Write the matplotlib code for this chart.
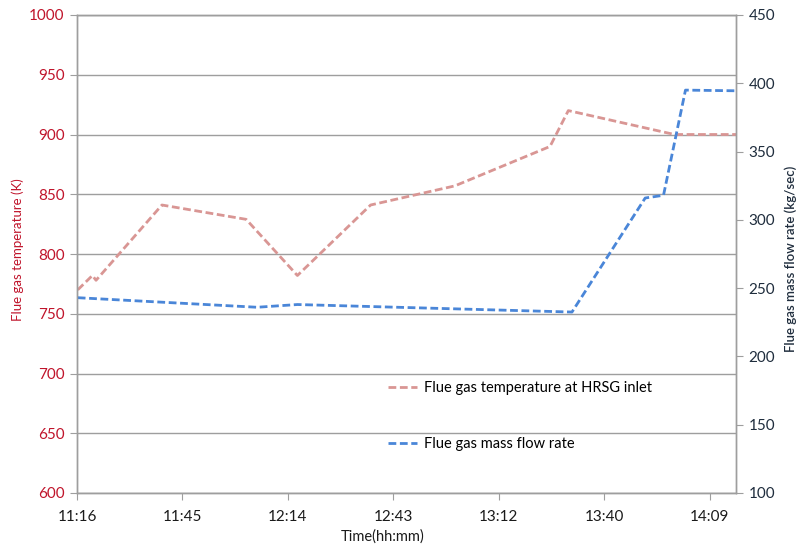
import matplotlib
matplotlib.use("Agg")
import matplotlib.pyplot as plt
from matplotlib.ticker import FixedLocator, FuncFormatter

plt.rcParams['font.family'] = ['Lato', 'DejaVu Sans']

# flue gas temperature at HRSG inlet (K)
temp_time = ["11:17", "11:21", "11:22", "11:40", "12:03", "12:17",
             "12:37", "13:00", "13:26", "13:31", "14:00", "14:17"]
temp_vals = [770, 782, 778, 841, 829, 782, 841, 857, 890, 920, 900, 900]

# flue gas mass flow rate (kg/sec)
flow_time = ["11:17", "12:06", "12:17", "13:32", "13:52", "13:57", "14:03", "14:17"]
flow_vals = [243, 236, 238, 232.5, 316, 318, 395, 394.5]

left_ticks = [600, 650, 700, 750, 800, 850, 900, 950, 1000]
right_ticks = [100, 150, 200, 250, 300, 350, 400, 450]


def to_min(s):
    h, m = s.split(":")
    return int(h) * 60 + int(m)


# excel date axis: starts at 0.47 day, major unit 0.02 day
x0 = 0.47 * 1440
x_ticks = [x0 + 0.02 * 1440 * k for k in range(7)]
x_end = x0 + 0.125 * 1440

RED = "#C0142B"
NAVY = "#1F2D3D"
GRID = "#9E9E9E"

fig = plt.figure(figsize=(7.96, 5.52), dpi=100)
ax = fig.add_axes([77 / 796, 1 - 493 / 552, 659 / 796, 478 / 552])
ax2 = ax.twinx()

tx = [to_min(t) for t in temp_time]
fx = [to_min(t) for t in flow_time]
l1, = ax.plot(tx, temp_vals, color="#D99694", lw=2.0, dashes=(2.8, 1.3),
              label="Flue gas temperature at HRSG inlet")
l2, = ax2.plot(fx, flow_vals, color="#4A86D8", lw=2.0, dashes=(2.8, 1.3),
               label="Flue gas mass flow rate")

ax.set_xlim(x0, x_end)
ax.set_ylim(600, 1000)
ax2.set_ylim(100, 450)
ax.yaxis.set_major_locator(FixedLocator(left_ticks))
ax2.yaxis.set_major_locator(FixedLocator(right_ticks))
ax.xaxis.set_major_locator(FixedLocator(x_ticks))
ax.xaxis.set_major_formatter(FuncFormatter(
    lambda v, p: "%d:%02d" % (int(v) // 60, int(v) % 60)))

ax.grid(axis="y", color=GRID, lw=1.0)
ax.set_axisbelow(True)
for a in (ax, ax2):
    for s in a.spines.values():
        s.set_color(GRID)
        s.set_linewidth(1.0)

ax.tick_params(axis="y", colors=GRID, labelcolor=RED, labelsize=11,
               length=5, direction="out", pad=4)
ax2.tick_params(axis="y", colors=GRID, labelcolor=NAVY, labelsize=11,
                length=5, direction="out", pad=4)
ax.tick_params(axis="x", colors=GRID, labelcolor="#1A1A1A", labelsize=11,
               length=5, direction="out", pad=7)

ax.set_ylabel("Flue gas temperature (K)", color=RED, fontsize=9.5)
ax.yaxis.set_label_coords(-0.081, 0.51)
ax2.set_ylabel("Flue gas mass flow rate (kg/sec)", color=NAVY, fontsize=9.5,
               fontweight="semibold")
ax2.yaxis.set_label_coords(1.074, 0.49)
ax.set_xlabel("Time(hh:mm)", color="#1A1A1A", fontsize=10.5)
ax.xaxis.set_label_coords((383 - 77) / 659, -0.076)

ax2.legend(handles=[l1, l2], loc="upper left", bbox_to_anchor=(0.463, 0.247),
           frameon=False, fontsize=10.5, handlelength=2.0, handletextpad=0.5,
           labelspacing=2.9, borderaxespad=0)

fig.savefig("out.png", dpi=100)
